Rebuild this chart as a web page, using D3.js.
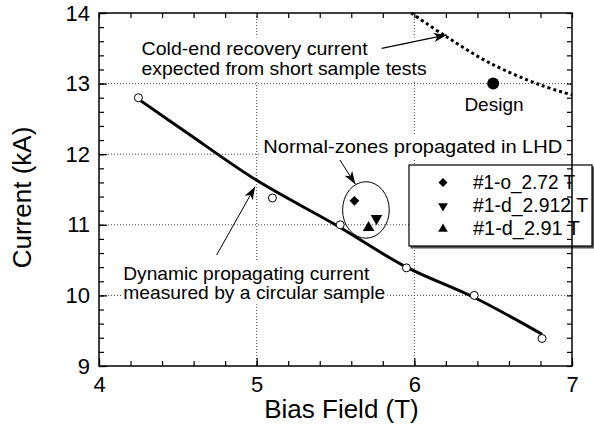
<!DOCTYPE html>
<html>
<head>
<meta charset="utf-8">
<script src="https://cdn.jsdelivr.net/npm/d3@7"></script>
<style>
  body { margin: 0; background: #fff; }
  svg { display: block; font-family: "Liberation Sans", Arial, Helvetica, sans-serif; }
</style>
</head>
<body>
<svg id="chart" width="594" height="427"></svg>
<script>
// Dynamic propagating current measured with a circular sample
const sampleField   = [4.25, 5.10, 5.53, 5.95, 6.38, 6.81];
const sampleCurrent = [12.80, 11.38, 11.00, 10.39, 10.00, 9.39];

// Fitted curve through the circular-sample data
const fitField   = [4.25, 4.56, 5.00, 5.50, 5.95, 6.38, 6.81];
const fitCurrent = [12.78, 12.30, 11.63, 11.00, 10.40, 9.97, 9.45];

// Cold-end recovery current expected from short sample tests
const coldField   = [5.98, 6.20, 6.48, 6.80, 7.00];
const coldCurrent = [14.00, 13.67, 13.29, 12.98, 12.84];

// Normal zones propagated in LHD
const lhdLabels  = ["#1-o_2.72 T", "#1-d_2.912 T", "#1-d_2.91 T"];
const lhdField   = [5.62, 5.76, 5.71];
const lhdCurrent = [11.34, 11.09, 10.96];
const lhdShapes  = ["diamond", "down", "up"];

// Design operating point
const designField   = [6.50];
const designCurrent = [13.00];

// Axes
const xTicks = [4, 5, 6, 7];
const yTicks = [9, 10, 11, 12, 13, 14];
const xGrid  = [5, 6];
const yGrid  = [10, 11, 12, 13];

const frame = { left: 99, right: 572, top: 13, bottom: 366 };

const svg = d3.select("#chart");
const x = d3.scaleLinear().domain([4, 7]).range([frame.left, frame.right]);
const y = d3.scaleLinear().domain([9, 14]).range([frame.bottom, frame.top]);

const defs = svg.append("defs");
defs.append("marker")
  .attr("id", "head")
  .attr("viewBox", "0 0 13 9")
  .attr("refX", 13).attr("refY", 4.5)
  .attr("markerWidth", 13).attr("markerHeight", 9)
  .attr("markerUnits", "userSpaceOnUse")
  .attr("orient", "auto")
  .append("path").attr("d", "M0,0 L13,4.5 L0,9 L3.5,4.5 Z").attr("fill", "#000");

// Dotted grid at the inner major values
const grid = svg.append("g").attr("stroke", "#444").attr("stroke-width", 1).attr("stroke-dasharray", "1,2");
grid.selectAll("line.gx").data(xGrid).join("line")
  .attr("x1", d => x(d)).attr("x2", d => x(d))
  .attr("y1", frame.top).attr("y2", frame.bottom);
grid.selectAll("line.gy").data(yGrid).join("line")
  .attr("y1", d => y(d)).attr("y2", d => y(d))
  .attr("x1", frame.left).attr("x2", frame.right);

// Text annotations on white boxes that mask the grid
function note(lines, fx, fy, opts = {}) {
  const g = svg.append("g");
  const lh = opts.lineHeight || 19.5;
  const t = g.append("text")
    .attr("font-size", opts.size || 19)
    .attr("text-anchor", opts.anchor || "start")
    .attr("fill", "#000");
  lines.forEach((s, i) => {
    const ts = t.append("tspan").attr("x", x(fx)).attr("y", y(fy) + i * lh).text(s);
    if (opts.widths && opts.widths[i]) {
      ts.attr("textLength", opts.widths[i]).attr("lengthAdjust", "spacingAndGlyphs");
    }
  });
  const b = t.node().getBBox();
  g.insert("rect", "text")
    .attr("x", b.x - 2).attr("y", b.y - 1)
    .attr("width", b.width + 4).attr("height", b.height + 2)
    .attr("fill", "#fff");
  return g;
}

note(["Cold-end recovery current", "expected from short sample tests"], 4.27, 13.40, { widths: [226, 285] });
note(["Dynamic propagating current", "measured by a circular sample"], 4.154, 10.222, { widths: [246, 262] });
note(["Normal-zones propagated in LHD"], 5.042, 12.017, { widths: [299] });
note(["Design"], 6.505, 12.61, { anchor: "middle" });

// Annotation arrows
const arrows = [
  { from: [5.793, 13.50], to: [6.205, 13.69], w: 1.3 },
  { from: [4.746, 10.572], to: [4.990, 11.54], w: 1 },
  { from: [5.528, 11.918], to: [5.626, 11.575], w: 1 }
];
svg.append("g").selectAll("line").data(arrows).join("line")
  .attr("x1", d => x(d.from[0])).attr("y1", d => y(d.from[1]))
  .attr("x2", d => x(d.to[0])).attr("y2", d => y(d.to[1]))
  .attr("stroke", "#000").attr("stroke-width", d => d.w)
  .attr("marker-end", "url(#head)");

// Ellipse circling the LHD points
svg.append("ellipse")
  .attr("cx", x(5.693)).attr("cy", y(11.21))
  .attr("rx", x(5.693 + 0.148) - x(5.693))
  .attr("ry", y(11.21) - y(11.21 + 0.40))
  .attr("fill", "none").attr("stroke", "#000").attr("stroke-width", 1);

// Legend
const legend = svg.append("g").attr("transform", "translate(409,165)");
legend.append("rect").attr("x", 1.5).attr("y", 1.5).attr("width", 184).attr("height", 82).attr("fill", "#555");
legend.append("rect").attr("width", 183).attr("height", 81)
  .attr("fill", "#fff").attr("stroke", "#000").attr("stroke-width", 1.2);

function shapePath(kind, size) {
  if (kind === "diamond") return d3.symbol(d3.symbolSquare, size)();
  return d3.symbol(d3.symbolTriangle, size)();
}
function shapeRotate(kind) {
  return kind === "diamond" ? 45 : kind === "down" ? 180 : 0;
}

const legendWidths = [102, 115, 107];
const rows = lhdLabels.map((lab, i) => ({ lab, kind: lhdShapes[i], i }));
const lrow = legend.selectAll("g.row").data(rows).join("g")
  .attr("transform", d => `translate(0,${17.5 + d.i * 23})`);
lrow.append("path")
  .attr("d", d => shapePath(d.kind, 40))
  .attr("transform", d => `translate(34,${d.kind === "diamond" ? 0 : 0.5}) rotate(${shapeRotate(d.kind)})`)
  .attr("fill", "#000");
lrow.append("text")
  .attr("x", 64).attr("dy", "0.35em")
  .attr("font-size", 19.5)
  .attr("textLength", d => legendWidths[d.i]).attr("lengthAdjust", "spacingAndGlyphs")
  .text(d => d.lab);

// Cold-end recovery curve (dotted)
svg.append("path")
  .datum(coldField.map((f, i) => [f, coldCurrent[i]]))
  .attr("d", d3.line().x(d => x(d[0])).y(d => y(d[1])).curve(d3.curveCatmullRom))
  .attr("fill", "none").attr("stroke", "#000").attr("stroke-width", 3)
  .attr("stroke-dasharray", "3,3");

// Fitted propagating-current curve
svg.append("path")
  .datum(fitField.map((f, i) => [f, fitCurrent[i]]))
  .attr("d", d3.line().x(d => x(d[0])).y(d => y(d[1])).curve(d3.curveCatmullRom))
  .attr("fill", "none").attr("stroke", "#000").attr("stroke-width", 3)
  .attr("stroke-linejoin", "round");

// Measured sample points
svg.append("g").selectAll("circle").data(sampleField.map((f, i) => [f, sampleCurrent[i]])).join("circle")
  .attr("cx", d => x(d[0])).attr("cy", d => y(d[1])).attr("r", 4)
  .attr("fill", "#fff").attr("stroke", "#000").attr("stroke-width", 1);

// LHD points
svg.append("g").selectAll("path").data(lhdField.map((f, i) => ({ f, c: lhdCurrent[i], kind: lhdShapes[i] }))).join("path")
  .attr("d", d => shapePath(d.kind, d.kind === "diamond" ? 48 : 58))
  .attr("transform", d => `translate(${x(d.f)},${y(d.c)}) rotate(${shapeRotate(d.kind)})`)
  .attr("fill", "#000");

// Design point
svg.append("g").selectAll("circle").data(designField.map((f, i) => [f, designCurrent[i]])).join("circle")
  .attr("cx", d => x(d[0])).attr("cy", d => y(d[1])).attr("r", 6).attr("fill", "#000");

// Frame with inward ticks on all sides
const minorX = d3.range(4, 7.001, 0.2).map(v => +v.toFixed(1));
const minorY = d3.range(9, 14.001, 0.2).map(v => +v.toFixed(1));

function styleAxis(g) {
  g.select(".domain").remove();
  g.selectAll(".tick line").attr("stroke", "#000").attr("stroke-width", 1.2);
  g.selectAll(".tick text").attr("fill", "#000").attr("font-size", 22)
    .attr("font-family", "\"Liberation Sans\", Arial, Helvetica, sans-serif");
}

svg.append("g").attr("transform", `translate(0,${frame.bottom})`)
  .call(d3.axisBottom(x).tickValues(minorX).tickSize(-5).tickFormat("")).call(styleAxis);
svg.append("g").attr("transform", `translate(0,${frame.top})`)
  .call(d3.axisTop(x).tickValues(minorX).tickSize(-5).tickFormat("")).call(styleAxis);
svg.append("g").attr("transform", `translate(${frame.left},0)`)
  .call(d3.axisLeft(y).tickValues(minorY).tickSize(-5).tickFormat("")).call(styleAxis);
svg.append("g").attr("transform", `translate(${frame.right},0)`)
  .call(d3.axisRight(y).tickValues(minorY).tickSize(-5).tickFormat("")).call(styleAxis);

svg.append("g").attr("transform", `translate(0,${frame.bottom})`)
  .call(d3.axisBottom(x).tickValues(xTicks).tickSizeInner(-8).tickSizeOuter(0).tickPadding(10).tickFormat(d3.format("d")))
  .call(styleAxis);
svg.append("g").attr("transform", `translate(${frame.left},0)`)
  .call(d3.axisLeft(y).tickValues(yTicks).tickSizeInner(-8).tickSizeOuter(0).tickPadding(9).tickFormat(d3.format("d")))
  .call(styleAxis);

svg.append("rect")
  .attr("x", frame.left).attr("y", frame.top)
  .attr("width", frame.right - frame.left).attr("height", frame.bottom - frame.top)
  .attr("fill", "none").attr("stroke", "#000").attr("stroke-width", 1.5);

// Axis titles
svg.append("text")
  .attr("x", (frame.left + frame.right) / 2 + 6).attr("y", 418)
  .attr("text-anchor", "middle").attr("font-size", 26).attr("fill", "#000")
  .text("Bias Field (T)");
svg.append("text")
  .attr("transform", `translate(31,${(frame.top + frame.bottom) / 2 + 8}) rotate(-90)`)
  .attr("text-anchor", "middle").attr("font-size", 26).attr("fill", "#000")
  .text("Current (kA)");
</script>
</body>
</html>
